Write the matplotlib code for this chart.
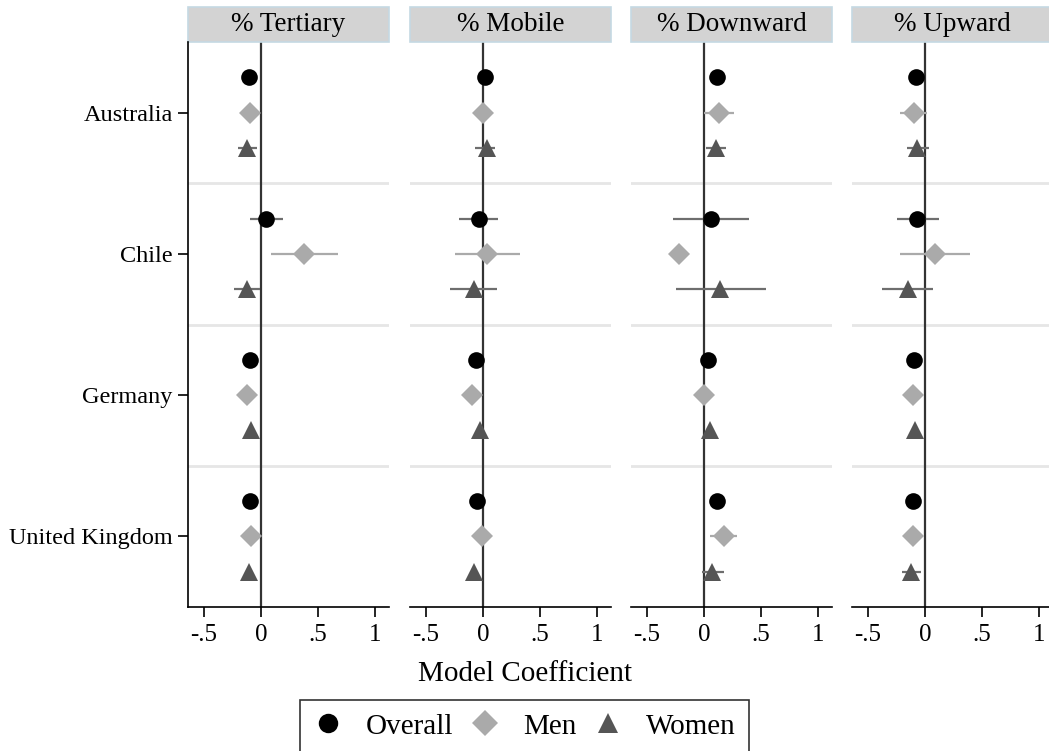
import numpy as np
import matplotlib
matplotlib.use('Agg')
import matplotlib.pyplot as plt
from matplotlib.patches import Rectangle
from matplotlib.lines import Line2D

plt.rcParams['font.family'] = ['Liberation Serif', 'DejaVu Serif']

countries = ['Australia', 'Chile', 'Germany', 'United Kingdom']
outcomes = ['% Tertiary', '% Mobile', '% Downward', '% Upward']
groups = ['Overall', 'Men', 'Women']

# coefficient estimates [outcome][group] -> values by country
coef = {
    '% Tertiary': {'Overall': [-0.11, 0.04, -0.10, -0.10],
                   'Men':     [-0.10, 0.38, -0.12, -0.09],
                   'Women':   [-0.12, -0.12, -0.09, -0.11]},
    '% Mobile':   {'Overall': [0.02, -0.04, -0.06, -0.05],
                   'Men':     [0.00, 0.03, -0.10, -0.01],
                   'Women':   [0.03, -0.08, -0.03, -0.08]},
    '% Downward': {'Overall': [0.11, 0.06, 0.03, 0.11],
                   'Men':     [0.13, -0.22, 0.00, 0.17],
                   'Women':   [0.10, 0.14, 0.05, 0.07]},
    '% Upward':   {'Overall': [-0.08, -0.07, -0.10, -0.11],
                   'Men':     [-0.10, 0.09, -0.11, -0.11],
                   'Women':   [-0.07, -0.15, -0.09, -0.12]},
}
# confidence interval bounds
ci_lo = {
    '% Tertiary': {'Overall': [-0.13, -0.10, -0.12, -0.12],
                   'Men':     [-0.13, 0.09, -0.14, -0.11],
                   'Women':   [-0.20, -0.24, -0.11, -0.13]},
    '% Mobile':   {'Overall': [0.00, -0.21, -0.08, -0.07],
                   'Men':     [-0.02, -0.25, -0.12, -0.03],
                   'Women':   [-0.07, -0.29, -0.05, -0.10]},
    '% Downward': {'Overall': [0.09, -0.27, 0.01, 0.09],
                   'Men':     [0.00, -0.22, -0.02, 0.05],
                   'Women':   [0.02, -0.25, 0.03, -0.02]},
    '% Upward':   {'Overall': [-0.10, -0.25, -0.12, -0.13],
                   'Men':     [-0.22, -0.22, -0.13, -0.13],
                   'Women':   [-0.16, -0.38, -0.11, -0.20]},
}
ci_hi = {
    '% Tertiary': {'Overall': [-0.09, 0.19, -0.08, -0.08],
                   'Men':     [-0.07, 0.67, -0.10, -0.07],
                   'Women':   [-0.04, -0.01, -0.07, -0.09]},
    '% Mobile':   {'Overall': [0.04, 0.13, -0.04, -0.03],
                   'Men':     [0.02, 0.32, -0.08, 0.01],
                   'Women':   [0.10, 0.12, -0.01, -0.06]},
    '% Downward': {'Overall': [0.13, 0.39, 0.05, 0.13],
                   'Men':     [0.26, -0.22, 0.02, 0.29],
                   'Women':   [0.19, 0.54, 0.07, 0.17]},
    '% Upward':   {'Overall': [-0.06, 0.12, -0.08, -0.09],
                   'Men':     [0.02, 0.39, -0.09, -0.09],
                   'Women':   [0.03, 0.07, -0.07, -0.04]},
}

xticks = [-0.5, 0, 0.5, 1]
xticklabels = ['-.5', '0', '.5', '1']

markers = {'Overall': 'o', 'Men': 'D', 'Women': '^'}
msize = {'Overall': 12, 'Men': 11, 'Women': 12.5}
mcolor = {'Overall': '#000000', 'Men': '#aaaaaa', 'Women': '#555555'}
lcolor = {'Overall': '#6e6e6e', 'Men': '#aaaaaa', 'Women': '#6e6e6e'}
offset = {'Overall': -0.25, 'Men': 0.0, 'Women': 0.25}

W, H = 1049, 751
fig = plt.figure(figsize=(W / 100, H / 100), dpi=100)

lefts = [188, 410, 631, 852]
ax_top, ax_bot = 42, 607
pw = 201

for k, out in enumerate(outcomes):
    ax = fig.add_axes([lefts[k] / W, 1 - ax_bot / H, pw / W, (ax_bot - ax_top) / H])
    ax.set_xlim(-0.64, 1.12)
    ax.set_ylim(4, 0)
    for s in [1, 2, 3]:
        ax.axhline(s, color='#e6e6e6', lw=2, zorder=0)
    ax.axvline(0, color='#333333', lw=1.6, zorder=1)
    for g in groups:
        ys = np.arange(len(countries)) + 0.5 + offset[g]
        ax.hlines(ys, ci_lo[out][g], ci_hi[out][g], color=lcolor[g], lw=1.6, zorder=2)
        ax.plot(coef[out][g], ys, linestyle='none', marker=markers[g], ms=msize[g],
                color=mcolor[g], markeredgewidth=0, zorder=3)
    ax.set_xticks(xticks)
    ax.set_xticklabels(xticklabels, fontsize=18)
    ax.tick_params(axis='x', length=7, width=1.2, pad=5)
    for sp in ['top', 'right']:
        ax.spines[sp].set_visible(False)
    ax.spines['bottom'].set_linewidth(1.2)
    if k == 0:
        ax.set_yticks(np.arange(len(countries)) + 0.5)
        ax.set_yticklabels(countries, fontsize=17.5)
        ax.tick_params(axis='y', length=7, width=1.2, pad=4)
        ax.spines['left'].set_linewidth(1.2)
    else:
        ax.set_yticks([])
        ax.spines['left'].set_visible(False)
    # strip header
    sh = 35 / (ax_bot - ax_top)
    ax.add_patch(Rectangle((0, 1.0), 1, sh, transform=ax.transAxes, clip_on=False,
                           facecolor='#d3d3d3', edgecolor='#c5d9e3', lw=1.2))
    ax.text(0.5, 1.0 + sh / 2, out, transform=ax.transAxes, ha='center', va='center',
            fontsize=19.5)

fig.text(0.5, 1 - 674 / H, 'Model Coefficient', ha='center', va='center', fontsize=21)

handles = [Line2D([], [], linestyle='none', marker=markers[g], ms=msize[g] + 2,
                  color=mcolor[g], markeredgewidth=0) for g in groups]
leg = fig.legend(handles, groups, loc='upper center', bbox_to_anchor=(0.5, 1 - 700 / H),
                 ncol=3, fontsize=21, frameon=True, fancybox=False, edgecolor='black',
                 handletextpad=0.8, columnspacing=0.6, borderpad=0.45, handlelength=1.0,
                 borderaxespad=0)
leg.get_frame().set_linewidth(1.2)

fig.savefig('out.png', dpi=100)
